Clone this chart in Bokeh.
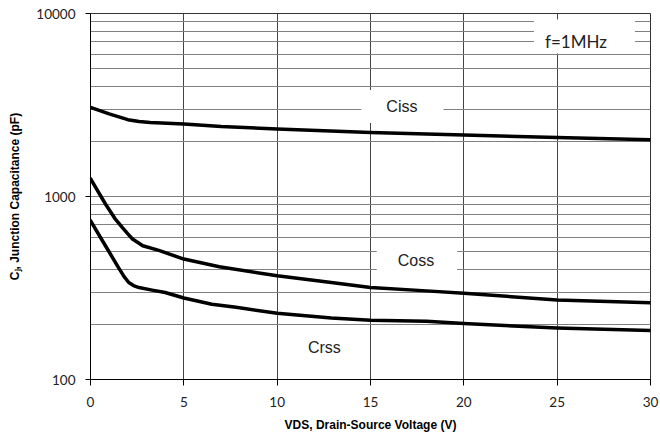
from bokeh.plotting import figure
from bokeh.models import Label, FixedTicker, PrintfTickFormatter, Range1d
from bokeh.embed import file_html
from bokeh.resources import INLINE

# ---- data ----
ciss_v = [0, 1, 2, 2.6, 3.2, 5, 7, 10, 15, 20, 25, 30]
ciss_c = [3070, 2830, 2630, 2570, 2540, 2490, 2410, 2340, 2240, 2170, 2100, 2040]

coss_v = [0, 0.8, 1.3, 1.7, 2.0, 2.25, 2.8, 3.7, 5, 6.9, 10, 12.9, 15, 18, 20, 25, 30]
coss_c = [1250, 910, 760, 678, 625, 586, 538, 506, 455, 413, 369, 339, 318, 305, 296, 272, 263]

crss_v = [0, 0.8, 1.5, 1.8, 2.05, 2.3, 2.6, 3.3, 4.0, 5, 6.5, 7.8, 10, 12.9, 15, 18, 20, 25, 30]
crss_c = [738, 538, 409, 365, 339, 326, 318, 308, 299, 279, 258, 248, 230, 217, 211, 208, 202, 191, 185]

x_ticks = [0, 5, 10, 15, 20, 25, 30]
y_ticks = [100, 1000, 10000]
y_minor = [m * d for d in (100, 1000) for m in range(2, 10)]

p = figure(frame_width=560, frame_height=366,
           min_border_left=90, min_border_right=9, min_border_top=13, min_border_bottom=62,
           x_range=Range1d(0, 30), y_range=Range1d(100, 10000), y_axis_type="log",
           output_backend="svg", toolbar_location=None)

p.background_fill_color = "white"
p.border_fill_color = "white"
p.outline_line_color = "#333333"
p.outline_line_width = 1

# axes
p.xaxis.ticker = FixedTicker(ticks=x_ticks)
p.yaxis.ticker = FixedTicker(ticks=y_ticks, minor_ticks=y_minor)
p.yaxis.formatter = PrintfTickFormatter(format="%d")

for ax in (p.xaxis[0], p.yaxis[0]):
    ax.axis_line_color = "black"
    ax.axis_line_width = 1
    ax.major_tick_line_color = "black"
    ax.major_tick_in = 0
    ax.minor_tick_in = 0
    ax.minor_tick_out = 0
    ax.major_label_text_font = "Lato"
    ax.major_label_text_font_size = "13.5px"
    ax.major_label_text_color = "#222222"
    ax.axis_label_text_font = "Liberation Sans"
    ax.axis_label_text_font_style = "bold"
    ax.axis_label_text_font_size = "12px"
    ax.axis_label_text_color = "black"

p.xaxis.major_tick_out = 6
p.yaxis.major_tick_out = 5
p.xaxis.major_label_standoff = 11
p.yaxis.major_label_standoff = 10
p.xaxis.axis_label_standoff = 8
p.yaxis.axis_label_standoff = 11
p.xaxis.axis_label = "VDS, Drain-Source Voltage (V)"
p.yaxis.axis_label = "C\u2c7c, Junction Capacitance (pF)"

# grids
p.xgrid.grid_line_color = "#444444"
p.xgrid.grid_line_width = 1
p.ygrid.grid_line_color = "#808080"
p.ygrid.minor_grid_line_color = "#808080"
p.ygrid.grid_line_width = 1
p.ygrid.minor_grid_line_width = 1

# curves
for xs, ys in ((ciss_v, ciss_c), (coss_v, coss_c), (crss_v, crss_c)):
    p.line(xs, ys, line_color="black", line_width=3.5, line_join="round", line_cap="round")

# labels
def add_label(x, y, text, pad, font="Liberation Sans", size="16px"):
    p.add_layout(Label(x=x, y=y, text=text, text_align="center", text_baseline="middle",
                       text_font=font, text_font_size=size, text_color="#222222",
                       background_fill_color="white", background_fill_alpha=1.0,
                       padding=pad))

add_label(16.71, 3100, "Ciss", dict(left=25, right=26, top=8, bottom=8))
add_label(17.49, 446, "Coss", dict(left=21, right=23, top=8, bottom=8))
add_label(12.53, 149, "Crss", dict(left=4, right=4, top=2, bottom=2))
add_label(26.46, 7480, "f=1MHz", dict(left=11, right=28, top=11, bottom=2), font="Lato", size="17px")

open("out.html", "w").write(file_html(p, INLINE))
